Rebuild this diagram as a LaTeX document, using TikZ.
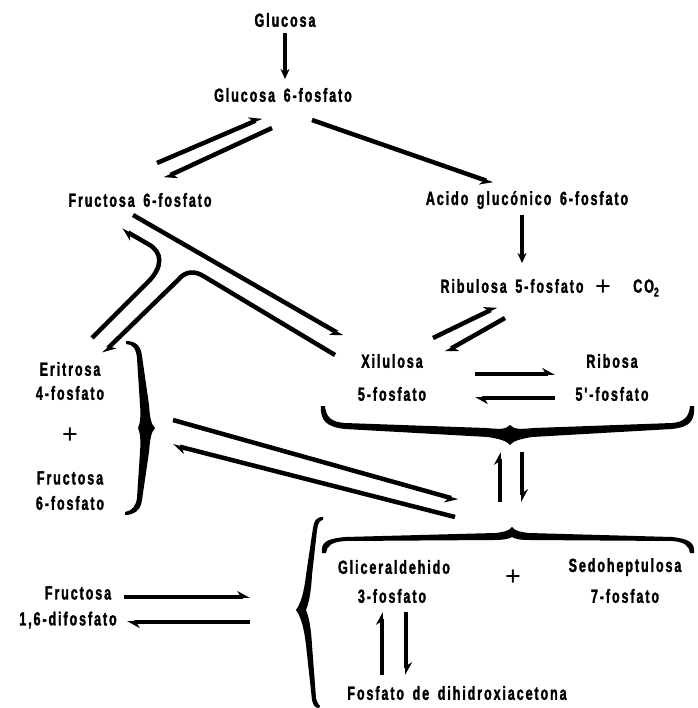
\documentclass[tikz,border=0pt]{standalone}
\usepackage{fontspec}
\newfontfamily\labfont{Liberation Sans Bold}[FakeStretch=0.66,LetterSpace=10,FakeBold=1.6,WordSpace=1.6]
\newfontfamily\plusfont{Liberation Sans}
\usetikzlibrary{arrows.meta}
\begin{document}
\begin{tikzpicture}[x=1pt,y=-1pt,
  lab/.style={inner sep=0pt, font=\labfont\fontsize{19}{22}\selectfont},
  plus/.style={inner sep=0pt, font=\plusfont\fontsize{27}{27}\selectfont},
  rx/.style={line width=4.5pt, -{Stealth[harpoon,length=11pt,width=12pt]}},
  rxs/.style={line width=4.5pt, -{Stealth[harpoon,swap,length=11pt,width=12pt]}},
  full/.style={line width=3.8pt, -{Stealth[length=10pt,width=9pt]}},
  bracefill/.style={fill=black}]
\useasboundingbox (0,0) rectangle (697,708);

% ---- labels ----
\node[lab] (glc) at (285,20) {Glucosa};
\node[lab] (g6p) at (283,95) {Glucosa 6-fosfato};
\node[lab] (f6p) at (140,200) {Fructosa 6-fosfato};
\node[lab] (agp) at (527,200) {Acido glucónico 6-fosfato};
\node[lab] (r5p) at (512,286) {Ribulosa 5-fosfato};
\node[plus] (pl1) at (603,288) {+};
\node[lab] (co2) at (646,288) {CO\raisebox{-4pt}{\fontsize{13}{13}\selectfont 2}};
\node[lab] (xil1) at (392,361) {Xilulosa};
\node[lab] (xil2) at (392,394) {5-fosfato};
\node[lab] (rib1) at (612,361) {Ribosa};
\node[lab] (rib2) at (612,394) {5'-fosfato};
\node[lab] (eri1) at (70,369) {Eritrosa};
\node[lab] (eri2) at (70,393) {4-fosfato};
\node[plus] (pl2) at (70,436) {+};
\node[lab] (fru1) at (70,478) {Fructosa};
\node[lab] (fru2) at (70,503) {6-fosfato};
\node[lab] (gli1) at (394,567) {Gliceraldehido};
\node[lab] (gli2) at (392,596) {3-fosfato};
\node[plus] (pl3) at (513,578) {+};
\node[lab] (sed1) at (625,567) {Sedoheptulosa};
\node[lab] (sed2) at (625,596) {7-fosfato};
\node[lab] (dha) at (457,693) {Fosfato de dihidroxiacetona};
\node[lab] (fbp1) at (78,593) {Fructosa};
\node[lab] (fbp2) at (68,620) {1,6-difosfato};

% ---- connector end points ----
\coordinate (c1a) at (285,33);  \coordinate (c1b) at (285,79);
\coordinate (c2a) at (157,163); \coordinate (c2b) at (262,118);
\coordinate (c3a) at (272,128); \coordinate (c3b) at (164,178);
\coordinate (c4a) at (312,120); \coordinate (c4b) at (493,183);
\coordinate (c5a) at (522,215); \coordinate (c5b) at (522,263);
\coordinate (c6a) at (433,338); \coordinate (c6b) at (497,307);
\coordinate (c7a) at (505,318); \coordinate (c7b) at (445,352);
\coordinate (c8a) at (475,374); \coordinate (c8b) at (555,374);
\coordinate (c9a) at (555,398); \coordinate (c9b) at (475,398);
\coordinate (c10a) at (500,502); \coordinate (c10b) at (500,452);
\coordinate (c11a) at (522,452); \coordinate (c11b) at (522,502);
\coordinate (c12a) at (173,420); \coordinate (c12b) at (458,500);
\coordinate (c13a) at (455,517); \coordinate (c13b) at (173,445);
\coordinate (c14a) at (382,675); \coordinate (c14b) at (382,612);
\coordinate (c15a) at (406,612); \coordinate (c15b) at (406,675);
\coordinate (c16a) at (124,597); \coordinate (c16b) at (250,597);
\coordinate (c17a) at (250,622); \coordinate (c17b) at (127,622);
\coordinate (c18a) at (133,215); \coordinate (c18b) at (343,336);
\coordinate (c19a) at (92,338);  \coordinate (c19b) at (122,229);
\coordinate (c20a) at (335,355); \coordinate (c20b) at (103,353);

% ---- connectors ----
\draw[full] (c1a) -- (c1b);
\draw[rx] (c2a) -- (c2b);
\draw[rx] (c3a) -- (c3b);
\draw[rxs] (c4a) -- (c4b);
\draw[full] (c5a) -- (c5b);
\draw[rx] (c6a) -- (c6b);
\draw[rx] (c7a) -- (c7b);
\draw[rx] (c8a) -- (c8b);
\draw[rx] (c9a) -- (c9b);
\draw[rx] (c10a) -- (c10b);
\draw[rx] (c11a) -- (c11b);
\draw[rxs] (c12a) -- (c12b);
\draw[rx] (c13a) -- (c13b);
\draw[rx] (c14a) -- (c14b);
\draw[rx] (c15a) -- (c15b);
\draw[rx] (c16a) -- (c16b);
\draw[rx] (c17a) -- (c17b);
\draw[rxs] (c18a) -- (c18b);
\draw[rx] (c19a) -- (148,282) .. controls (163,267) and (163,252) .. (148,244) -- (c19b);
\draw[rx] (c20a) -- (205,277) .. controls (196,271) and (186,270) .. (178,280) -- (c20b);

% ---- braces ----
% A: under Xilulosa / Ribosa, pointing down
\fill[bracefill] (321,406) .. controls (320,421) and (327,427) .. (345,429) -- (488,437)
  .. controls (500,439) and (507,441) .. (510,445) .. controls (513,441) and (520,439) .. (532,437)
  -- (672,429) .. controls (690,427) and (695,421) .. (694,406) -- (690,406)
  .. controls (689,417) and (684,422) .. (672,423) -- (534,428)
  .. controls (522,429) and (514,430) .. (510,425) .. controls (506,430) and (498,429) .. (486,428)
  -- (345,423) .. controls (331,422) and (326,417) .. (325,406) -- cycle;
% B: over Gliceraldehido / Sedoheptulosa, pointing up
\fill[bracefill] (322,553) .. controls (321,542) and (326,539) .. (345,537) -- (495,533)
  .. controls (504,532) and (509,531) .. (512,527) .. controls (515,531) and (520,532) .. (529,533)
  -- (672,537) .. controls (690,539) and (695,543) .. (694,553) -- (690,553)
  .. controls (689,546) and (685,542) .. (672,541) -- (530,540)
  .. controls (520,540) and (515,539) .. (512,537) .. controls (509,539) and (503,540) .. (494,540)
  -- (345,541) .. controls (331,542) and (327,546) .. (326,553) -- cycle;
% C: right of Eritrosa group, pointing right
\fill[bracefill] (126,341) .. controls (136,341) and (141,346) .. (142,356) -- (149,405)
  .. controls (150,418) and (151,424) .. (155,428) .. controls (151,432) and (150,440) .. (149,452)
  -- (142,500) .. controls (141,510) and (134,515) .. (125,515) -- (125,512)
  .. controls (132,511) and (136,506) .. (137,498) -- (140,452)
  .. controls (141,440) and (140,432) .. (138,428) .. controls (140,424) and (141,416) .. (140,405)
  -- (137,358) .. controls (136,349) and (133,344) .. (126,344) -- cycle;
% D: left of Gliceraldehido group, pointing left
\fill[bracefill] (323,517) .. controls (316,517) and (314,521) .. (313,528) -- (306,575)
  .. controls (304,592) and (301,603) .. (296,610) .. controls (301,617) and (304,628) .. (306,645)
  -- (312,700) .. controls (313,705) and (315,708) .. (319,708) -- (320,706)
  .. controls (318,704) and (317,702) .. (316,698) -- (312,645)
  .. controls (311,628) and (309,617) .. (306,610) .. controls (309,603) and (311,592) .. (312,575)
  -- (317,530) .. controls (318,523) and (320,520) .. (323,520) -- cycle;
\end{tikzpicture}
\end{document}
